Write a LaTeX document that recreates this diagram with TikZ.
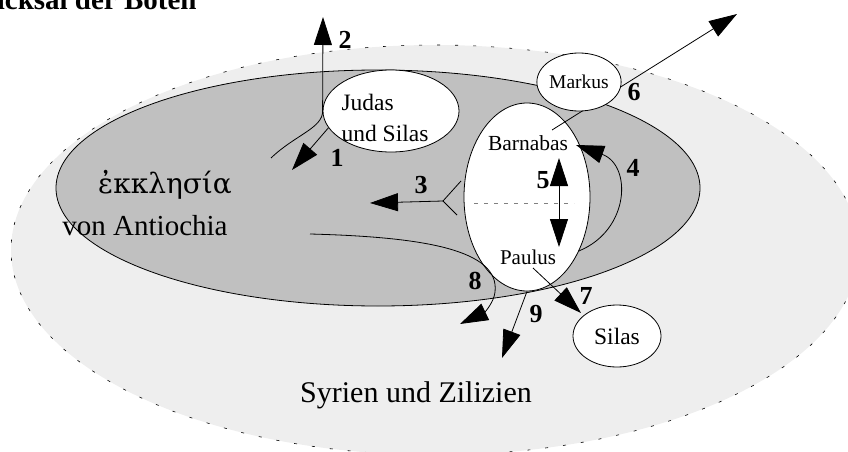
\documentclass[tikz,border=0pt]{standalone}
\usepackage{fontspec}
\setmainfont{Liberation Serif}
\newfontfamily\greekfont{DejaVu Serif}
\usepackage{tikz}
\usetikzlibrary{arrows.meta, shapes.geometric}
\definecolor{land}{RGB}{238, 238, 238}
\definecolor{church}{RGB}{192, 192, 192}

\begin{document}
\begin{tikzpicture}[x=1pt, y=-1pt, line width=0.8pt,
  >={Triangle[length=28pt, width=18pt]},
  place/.style={ellipse, draw, fill=white, inner sep=0pt},
  num/.style={font=\bfseries\fontsize{26}{26}\selectfont}]
  \useasboundingbox (0, 0) rectangle (848, 452);

  % the two regions
  \fill [land] (435, 250) ellipse [x radius=424pt, y radius=205pt];
  \draw [dash pattern=on 3pt off 15pt, line width=0.6pt] (435, 250) ellipse [x radius=424pt, y radius=205pt];
  \draw [fill=church] (378, 188) ellipse [x radius=322pt, y radius=118pt];

  \node[font=\bfseries\fontsize{29}{29}\selectfont, anchor=base east, inner sep=0pt] (title) at (197, 10) {Schicksal der Boten};
  \node[font=\greekfont\fontsize{28}{28}\selectfont] (ekklesia) at (165, 185) {ἐκκλησία};
  \node[font=\fontsize{29}{29}\selectfont] (antiochia) at (145, 226) {von Antiochia};
  \node[font=\fontsize{30}{30}\selectfont] (syrien) at (416, 395) {Syrien und Zilizien};

  % the envoys
  \node[place, minimum width=126pt, minimum height=188pt] (bp) at (527, 197) {};
  \draw [gray, dash pattern=on 4pt off 6pt] (474, 203) -- (574, 203);
  \node[font=\fontsize{21.5}{21.5}\selectfont] (barnabas) at (528, 143) {Barnabas};
  \node[font=\fontsize{21}{21}\selectfont] (paulus) at (528, 257) {Paulus};
  \node[place, minimum width=136pt, minimum height=82pt] (judas) at (391, 111) {};
  \node[font=\fontsize{23.5}{31}\selectfont, align=left] (judastext) at (385, 118) {Judas\\und Silas};
  \node[place, minimum width=88pt, minimum height=62pt, font=\fontsize{23.5}{23.5}\selectfont] (silas) at (617, 336) {Silas};

  % end points of the journeys
  \coordinate (a1) at (292, 170);
  \coordinate (s2) at (271, 158);
  \coordinate (a2) at (323, 17);
  \coordinate (f3) at (443, 201);
  \coordinate (f3a) at (461, 181);
  \coordinate (f3b) at (457, 215);
  \coordinate (a3) at (370, 203);
  \coordinate (a4) at (576, 145);
  \coordinate (t5) at (559, 158);
  \coordinate (b5) at (559, 247);
  \coordinate (s6) at (552, 130);
  \coordinate (a6) at (737, 14);
  \coordinate (s7) at (533, 268);
  \coordinate (a7) at (581, 313);
  \coordinate (s8) at (310, 234);
  \coordinate (a8) at (460, 324);
  \coordinate (a9) at (502, 358);

  \draw [->] (judas.195) -- (a1);
  \draw [->] (s2) .. controls (295, 135) and (323, 128) .. (judas.west) -- (a2);
  \draw (f3a) -- (f3) -- (f3b);
  \draw [->] (f3) -- (a3);
  \draw [->] (bp.-46) .. controls (630, 230) and (632, 165) .. (a4);
  \draw [<->] (t5) -- (b5);
  \draw [->] (s6) -- (a6);
  \draw [->] (s7) -- (a7);
  \draw [->] (s8) .. controls (425, 237) and (500, 250) .. (495, 292) .. controls (494, 302) and (485, 312) .. (a8);
  \draw [->] (bp.south) -- (a9);

  \node[place, minimum width=76pt, minimum height=58pt, font=\fontsize{19.5}{19.5}\selectfont] (markus) at (579, 82) {Markus};

  \node[num] (n1) at (337, 158) {1};
  \node[num] (n2) at (345, 40) {2};
  \node[num] (n3) at (421, 185) {3};
  \node[num] (n4) at (633, 168) {4};
  \node[num] (n5) at (543, 180) {5};
  \node[num] (n6) at (634, 92) {6};
  \node[num] (n7) at (586, 296) {7};
  \node[num] (n8) at (475, 281) {8};
  \node[num] (n9) at (536, 314) {9};
\end{tikzpicture}
\end{document}
